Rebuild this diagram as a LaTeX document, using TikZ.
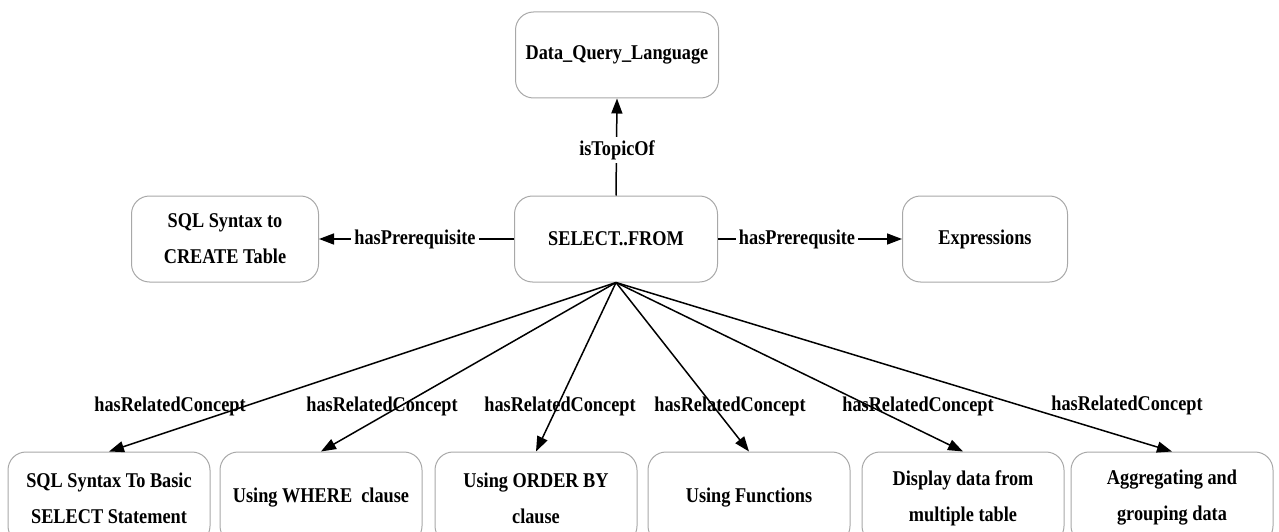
\documentclass[tikz,border=0pt]{standalone}
\usepackage{fontspec}
\setmainfont{Liberation Serif}[FakeStretch=0.87]
\usetikzlibrary{arrows.meta}
\definecolor{boxgray}{HTML}{A8A8A8}
\begin{document}
\begin{tikzpicture}[x=1pt,y=-1pt,
  box/.style={draw=boxgray, line width=1pt, rounded corners=18pt, align=center,
    font=\bfseries\fontsize{21}{36}\selectfont, inner sep=0pt},
  topbox/.style={box, minimum width=203pt, minimum height=86pt},
  botbox/.style={box, minimum width=202pt, minimum height=92pt},
  rel/.style={-{Triangle[length=15pt,width=11pt]}, line width=1.5pt},
  lbl/.style={font=\bfseries\fontsize{21}{22}\selectfont, inner sep=1pt},
  lblw/.style={lbl, fill=white, inner sep=3pt}]
\useasboundingbox (0,0) rectangle (1279,532);
% top row
\node[topbox] (dql) at (617,55) {Data\_Query\_Language};
\node[topbox] (sel) at (616,239) {SELECT..FROM};
\node[box, minimum width=187pt, minimum height=86pt] (crt) at (225,239) {SQL Syntax to\\CREATE Table};
\node[box, minimum width=165pt, minimum height=86pt] (expr) at (985,239) {Expressions};
% bottom row
\node[botbox] (b1) at (109,498) {SQL Syntax To Basic\\SELECT Statement};
\node[botbox] (b2) at (321,498) {Using WHERE\ \ clause};
\node[botbox] (b3) at (536,498) {Using ORDER BY\\clause};
\node[botbox] (b4) at (749,498) {Using Functions};
\node[botbox] (b5) at (963,498) {Display data from\\multiple table};
\node[botbox] (b6) at (1172,498) {Aggregating and\\grouping data};
% top connectors
\draw[rel] (sel.north) -- (dql.south);
\node[lblw] (l0) at (617,150) {isTopicOf};
\draw[rel] (sel.west) -- (crt.east);
\node[lblw] (l1) at (415,239) {hasPrerequisite};
\draw[rel] (sel.east) -- (expr.west);
\node[lblw] (l2) at (797,239) {hasPrerequsite};
% bottom connectors
\foreach \b in {b1,b2,b3,b4,b5,b6}
  \draw[rel] (sel.south) -- (\b.north);
\node[lbl] (r1) at (170,406) {hasRelatedConcept};
\node[lbl] (r2) at (382,406) {hasRelatedConcept};
\node[lbl] (r3) at (560,406) {hasRelatedConcept};
\node[lbl] (r4) at (730,406) {hasRelatedConcept};
\node[lbl] (r5) at (918,406) {hasRelatedConcept};
\node[lbl] (r6) at (1127,405) {hasRelatedConcept};
\end{tikzpicture}
\end{document}
